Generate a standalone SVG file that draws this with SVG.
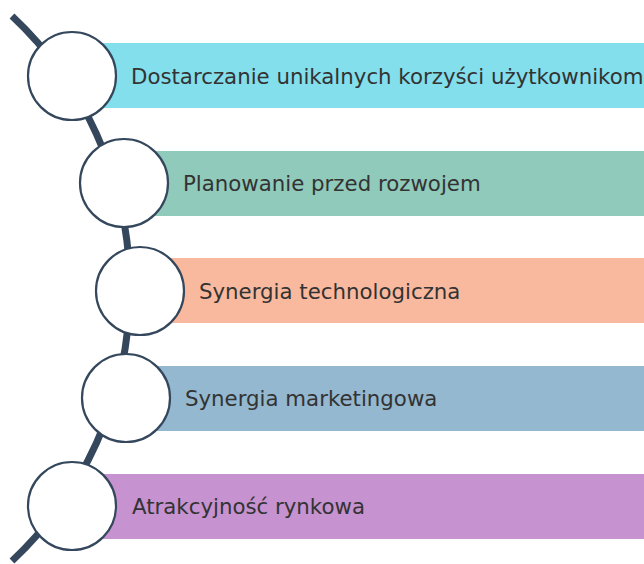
<svg xmlns="http://www.w3.org/2000/svg" width="644" height="564" viewBox="0 0 644 564">
<style>
.arc{fill:none;stroke:#34475c;stroke-width:7}
.node{fill:#fff;stroke:#34475c;stroke-width:2.2}
.lbl{font-family:"DejaVu Sans",sans-serif;font-size:21.3px;fill:#333;dominant-baseline:central}
</style>
<rect width="644" height="564" fill="#fff"/>
<g id="connectors">
<path class="arc" d="M 12 16 A 373.9 373.9 0 0 1 12 561"/>
</g>
<g id="n1"><rect x="72" y="43" width="572" height="65" fill="#84dfed"/><circle class="node" cx="72" cy="76" r="44"/><text class="lbl" x="131" y="76">Dostarczanie unikalnych korzyści użytkownikom</text></g>
<g id="n2"><rect x="124" y="151" width="520" height="65" fill="#90cabb"/><circle class="node" cx="124" cy="183" r="44"/><text class="lbl" x="183" y="183">Planowanie przed rozwojem</text></g>
<g id="n3"><rect x="140" y="258" width="504" height="65" fill="#f9b99e"/><circle class="node" cx="140" cy="291" r="44"/><text class="lbl" x="199" y="291">Synergia technologiczna</text></g>
<g id="n4"><rect x="126" y="366" width="518" height="65" fill="#93b8d0"/><circle class="node" cx="126" cy="398" r="44"/><text class="lbl" x="185" y="398">Synergia marketingowa</text></g>
<g id="n5"><rect x="72" y="474" width="572" height="65" fill="#c692d0"/><circle class="node" cx="72" cy="506" r="44"/><text class="lbl" x="132" y="506">Atrakcyjność rynkowa</text></g>
</svg>
